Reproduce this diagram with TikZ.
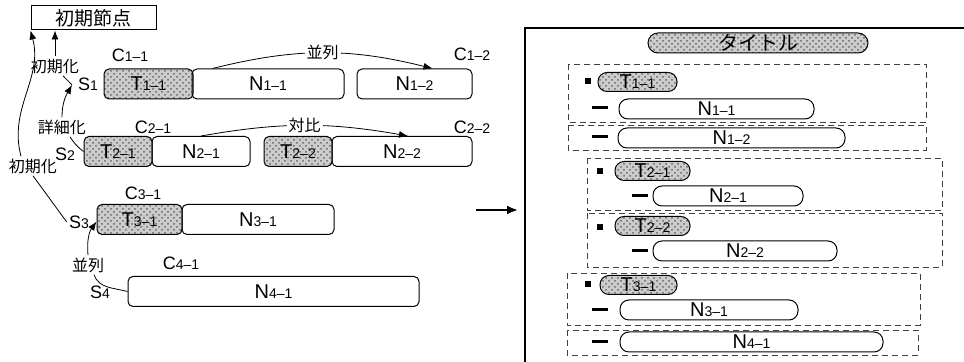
\documentclass[tikz,border=0pt]{standalone}
\usepackage{fontspec}
\setmainfont{Liberation Sans}
\newfontfamily\jp{Noto Sans CJK JP}
\usetikzlibrary{arrows.meta,patterns}
\newcommand{\sml}[1]{{\fontsize{7}{7}\selectfont #1}}
\begin{document}
\begin{tikzpicture}[x=0.5pt,y=-0.5pt,>={Latex[length=4.5pt,width=3.5pt]},
  every node/.style={font=\fontsize{9}{10}\selectfont,inner sep=1pt},
  cell/.style={draw,rounded corners=2.5pt,minimum height=15pt,inner sep=0pt,line width=0.5pt,font=\fontsize{10}{10}\selectfont},
  tcell/.style={cell,preaction={fill=gray!40},pattern=crosshatch dots,pattern color=black!60},
  jlab/.style={font=\jp\fontsize{8}{9}\selectfont},
  grp/.style={draw=black!75,densely dashed,line width=0.4pt},
  pill/.style={draw,rounded corners=4.5pt,minimum height=10pt,inner sep=0pt,line width=0.5pt,font=\fontsize{10}{10}\selectfont},
  tpill/.style={pill,minimum height=9.5pt,preaction={fill=gray!40},pattern=crosshatch dots,pattern color=black!60},
  bul/.style={fill,inner sep=0pt,minimum size=3pt},
  dsh/.style={fill,inner sep=0pt,minimum width=8pt,minimum height=1.5pt}]
\useasboundingbox (0,0) rectangle (964,362);
\node[draw,line width=0.5pt,minimum width=62.5pt,minimum height=12pt,inner sep=0pt,font=\jp\fontsize{9.5}{10}\selectfont] (top) at (93.5,18) {初期節点};
\node[tcell,minimum width=44.5pt] (t11) at (148.5,84) {T\sml{1--1}};
\node[cell,minimum width=76pt] (n11) at (268,84) {N\sml{1--1}};
\node[cell,minimum width=57.5pt] (n12) at (414.5,84) {N\sml{1--2}};
\node[tcell,minimum width=34pt] (t21) at (118,151.5) {T\sml{2--1}};
\node[cell,minimum width=49pt] (n21) at (201,151.5) {N\sml{2--1}};
\node[tcell,minimum width=34pt] (t22) at (298,151.5) {T\sml{2--2}};
\node[cell,minimum width=70pt] (n22) at (402,151.5) {N\sml{2--2}};
\node[tcell,minimum width=42.5pt] (t31) at (139.5,219.5) {T\sml{3--1}};
\node[cell,minimum width=76pt] (n31) at (258,219.5) {N\sml{3--1}};
\node[cell,minimum width=145.5pt] (n41) at (273.5,291.5) {N\sml{4--1}};
\node (c11) at (130,55) {C\sml{1--1}};
\node (c12) at (472,54) {C\sml{1--2}};
\node (c21) at (153,127) {C\sml{2--1}};
\node (c22) at (472,127) {C\sml{2--2}};
\node (c31) at (143,193) {C\sml{3--1}};
\node (c41) at (181,263) {C\sml{4--1}};
\node (s1) at (88,84) {S\sml{1}};
\node (s2) at (65,154) {S\sml{2}};
\node (s3) at (79,222) {S\sml{3}};
\node (s4) at (100,292) {S\sml{4}};
\node[jlab] (l1) at (55,66) {初期化};
\node[jlab] (l2) at (62,127) {詳細化};
\node[jlab] (l3) at (33,166) {初期化};
\node[jlab] (l4) at (88,265) {並列};
\coordinate (s1p) at (72,85);
\draw[->] (l1) -- (l1 |- top.south);
\draw (s1p) -- ([xshift=4pt]l1.south);
\draw[->] (l2) to[out=90,in=240] (s1p);
\draw ([xshift=4pt]l2.south) to[bend right=10] (t21.west);
\draw[->] ([xshift=-6pt]l3.north) to[out=105,in=-75] (top.south west);
\draw (l3.south) -- (s3.west);
\draw[->] (l4.north) to[out=95,in=235] ([yshift=-1pt]t31.west);
\draw ([xshift=3pt]l4.south) to[out=-70,in=165] (n41.west);
\draw[->] ([xshift=10.5pt]n11.north west) to[out=14,in=166] node[fill=white,jlab] (p1) {並列} ([xshift=9pt]n12.north);
\draw[->] (n21.north) to[out=10,in=170] node[fill=white,jlab] (p2) {対比} ([xshift=3pt]n22.north);
\coordinate (a0) at (476,210);
\coordinate (a1) at (518,210);
\draw[-{Latex[length=5.5pt,width=4.5pt]},line width=1pt] (a0) -- (a1);
\draw[line width=0.6pt] (525,362) |- (964,28);
\node[tpill,minimum width=110pt,minimum height=10pt,rounded corners=5pt,font=\jp\fontsize{10}{10}\selectfont] (ttl) at (758,43) {タイトル};
\draw[grp] (568,64) rectangle (926,122);
\draw[grp] (568,125) rectangle (926,150);
\draw[grp] (587,158) rectangle (942,210);
\draw[grp] (587,213) rectangle (942,267);
\draw[grp] (567,273) rectangle (920,325);
\draw[grp] (567,330) rectangle (918,355);
\node[bul] (b1) at (588,81) {};
\node[tpill,minimum width=39.5pt] (r11) at (637.5,82) {T\sml{1--1}};
\node[dsh] (d1) at (600,108) {};
\node[pill,minimum width=97.5pt] (q11) at (716.5,109) {N\sml{1--1}};
\node[dsh] (d2) at (600,137) {};
\node[pill,minimum width=113.5pt] (q12) at (731.5,138) {N\sml{1--2}};
\node[bul] (b2) at (600,171) {};
\node[tpill,minimum width=37.5pt] (r21) at (652.5,171) {T\sml{2--1}};
\node[dsh] (d3) at (640,196) {};
\node[pill,minimum width=75pt] (q21) at (728,196) {N\sml{2--1}};
\node[bul] (b3) at (600,227) {};
\node[tpill,minimum width=37.5pt] (r22) at (652.5,226) {T\sml{2--2}};
\node[dsh] (d4) at (640,251) {};
\node[pill,minimum width=92pt] (q22) at (745,251) {N\sml{2--2}};
\node[bul] (b4) at (588,284) {};
\node[tpill,minimum width=38.5pt] (r31) at (638.5,285) {T\sml{3--1}};
\node[dsh] (d5) at (600,310) {};
\node[pill,minimum width=89pt] (q31) at (709,310) {N\sml{3--1}};
\node[dsh] (d6) at (600,342) {};
\node[pill,minimum width=131.5pt] (q41) at (751.5,342) {N\sml{4--1}};
\end{tikzpicture}
\end{document}
